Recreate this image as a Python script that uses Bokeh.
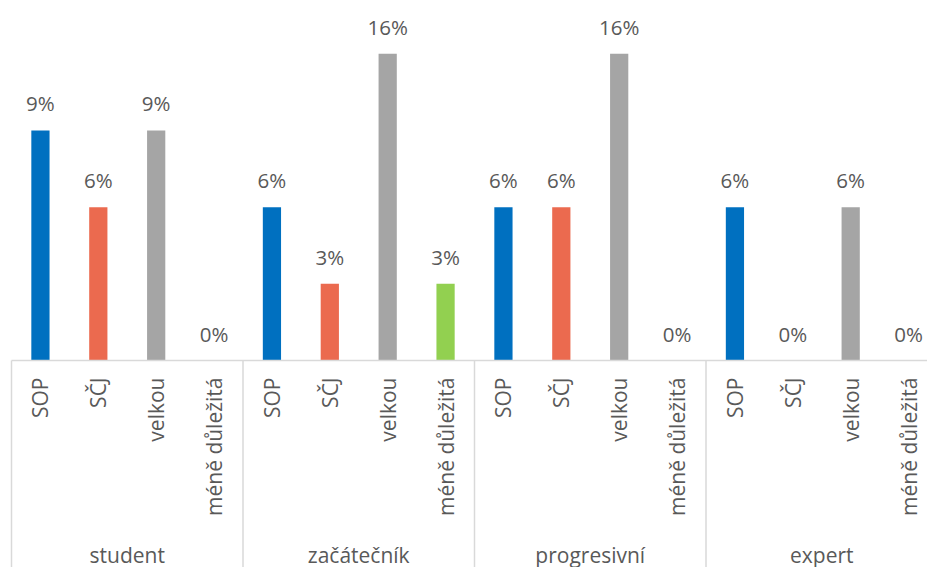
import numpy as np
from bokeh.plotting import figure
from bokeh.models import Range1d, ColumnDataSource
from bokeh.core.properties import value
from bokeh.embed import file_html
from bokeh.resources import INLINE

# ---- data ----
groups = ["student", "začátečník", "progresivní", "expert"]
subcats = ["SOP", "SČJ", "velkou", "méně důležitá"]
sop = [9, 6, 6, 6]
scj = [6, 3, 6, 0]
velkou = [9, 16, 16, 6]
mene = [0, 3, 0, 0]
series = [sop, scj, velkou, mene]
colors = ["#0070C0", "#EB6A4F", "#A5A5A5", "#92D050"]
AXIS_MAX = 12  # value axis maximum (bars above it are clipped, as in original)

FONT = "Open Sans"
TXT = "#595959"
GRID = "#D9D9D9"

xs, tops, labels, cols, sublab = [], [], [], [], []
for gi, g in enumerate(groups):
    for si, s in enumerate(subcats):
        v = series[si][gi]
        xs.append(gi * 4 + si + 0.5)
        tops.append(v)
        labels.append(f"{v}%")
        cols.append(colors[si])
        sublab.append(s)
tops = np.array(tops, dtype=float)
src = ColumnDataSource(dict(x=xs, top=np.minimum(tops, AXIS_MAX), lab=labels,
                            col=cols, sub=sublab))

W, H = 927, 567
px_per_unit = 57.875
x0 = -11 / px_per_unit
px_per_pct = 25.56
y_top = 360 / px_per_pct
y_bot = -(H - 360) / px_per_pct

p = figure(width=W, height=H, output_backend="svg", toolbar_location=None,
           x_range=Range1d(x0, x0 + W / px_per_unit),
           y_range=Range1d(y_bot, y_top),
           x_axis_location=None, y_axis_location=None,
           min_border=0, outline_line_color=None)
p.grid.visible = False
p.background_fill_color = "white"
p.border_fill_color = "white"

p.vbar(x="x", top="top", bottom=0, width=0.315, fill_color="col",
       line_color=None, source=src)

# value labels
p.text(x="x", y="top", text="lab", source=src, text_align="center",
       text_baseline="middle", y_offset=-27, text_color=TXT,
       text_font=value(FONT), text_font_size="20.5px")

# baseline
n = len(groups) * 4
p.segment(x0=[0], y0=[0], x1=[n], y1=[0], line_color=GRID, line_width=1.5)
# group separators
seps = [gi * 4 for gi in range(len(groups) + 1)]
p.segment(x0=seps, y0=[0] * len(seps), x1=seps, y1=[y_bot] * len(seps),
          line_color=GRID, line_width=1.5)

# sub-category labels (rotated)
p.text(x="x", y=-17 / px_per_pct, text="sub", source=src, angle=np.pi / 2,
       text_align="right", text_baseline="middle", text_color=TXT,
       text_font=value(FONT), text_font_size="21px")

# group labels
gx = [gi * 4 + 2 for gi in range(len(groups))]
p.text(x=gx, y=[-(554 - 360) / px_per_pct] * len(groups), text=groups,
       text_align="center", text_baseline="middle", text_color=TXT,
       text_font=value(FONT), text_font_size="21px")

open("out.html", "w").write(file_html(p, INLINE))
